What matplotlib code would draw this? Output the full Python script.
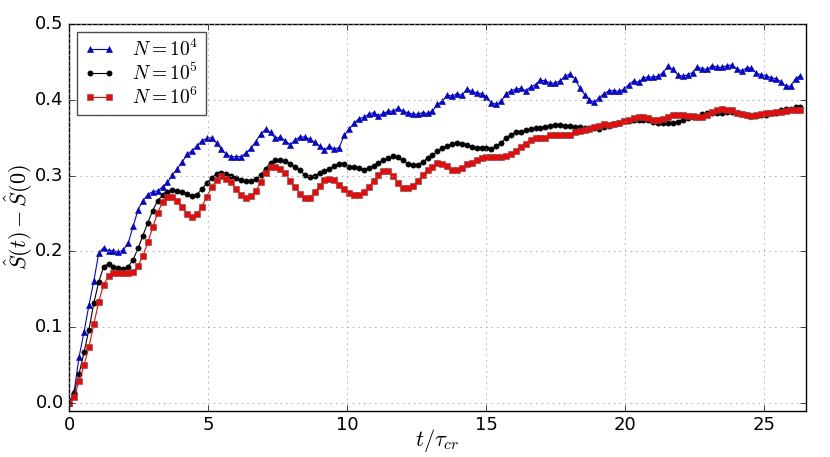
import numpy as np
import matplotlib
matplotlib.use("Agg")
import matplotlib.pyplot as plt

dt = 0.1766
n_points = 150

s_n4 = [0.000, 0.016, 0.061, 0.094, 0.129, 0.161, 0.198, 0.205, 0.201, 0.201,
        0.199, 0.202, 0.211, 0.233, 0.255, 0.267, 0.275, 0.279, 0.280, 0.285,
        0.291, 0.301, 0.309, 0.318, 0.328, 0.333, 0.339, 0.346, 0.349, 0.350,
        0.343, 0.335, 0.328, 0.325, 0.325, 0.325, 0.330, 0.336, 0.345, 0.355,
        0.361, 0.357, 0.349, 0.351, 0.346, 0.341, 0.347, 0.351, 0.351, 0.348,
        0.344, 0.339, 0.334, 0.339, 0.335, 0.337, 0.353, 0.361, 0.369, 0.375,
        0.377, 0.381, 0.383, 0.379, 0.382, 0.385, 0.385, 0.389, 0.385, 0.383,
        0.381, 0.381, 0.383, 0.382, 0.385, 0.394, 0.398, 0.406, 0.405, 0.408,
        0.406, 0.414, 0.411, 0.409, 0.408, 0.404, 0.396, 0.394, 0.398, 0.408,
        0.412, 0.414, 0.415, 0.412, 0.417, 0.420, 0.426, 0.425, 0.422, 0.422,
        0.425, 0.431, 0.434, 0.428, 0.416, 0.407, 0.400, 0.397, 0.403, 0.408,
        0.412, 0.412, 0.411, 0.414, 0.420, 0.425, 0.423, 0.429, 0.430, 0.430,
        0.431, 0.436, 0.444, 0.440, 0.433, 0.431, 0.433, 0.436, 0.443, 0.441,
        0.440, 0.445, 0.443, 0.443, 0.445, 0.446, 0.441, 0.438, 0.442, 0.442,
        0.435, 0.433, 0.432, 0.429, 0.428, 0.424, 0.418, 0.418, 0.428, 0.432]

s_n5 = [0.000, 0.014, 0.039, 0.067, 0.097, 0.132, 0.160, 0.180, 0.184, 0.180,
        0.178, 0.177, 0.180, 0.189, 0.204, 0.221, 0.238, 0.254, 0.267, 0.274,
        0.279, 0.281, 0.280, 0.279, 0.276, 0.273, 0.275, 0.282, 0.290, 0.297,
        0.302, 0.303, 0.302, 0.300, 0.297, 0.294, 0.293, 0.293, 0.295, 0.301,
        0.309, 0.317, 0.320, 0.320, 0.319, 0.316, 0.311, 0.307, 0.301, 0.298,
        0.300, 0.303, 0.306, 0.309, 0.313, 0.316, 0.315, 0.312, 0.311, 0.310,
        0.308, 0.310, 0.313, 0.317, 0.320, 0.323, 0.326, 0.324, 0.320, 0.316,
        0.314, 0.314, 0.318, 0.323, 0.327, 0.332, 0.336, 0.339, 0.342, 0.343,
        0.342, 0.340, 0.338, 0.337, 0.337, 0.336, 0.335, 0.339, 0.343, 0.350,
        0.354, 0.357, 0.358, 0.360, 0.361, 0.363, 0.363, 0.364, 0.365, 0.367,
        0.367, 0.366, 0.365, 0.364, 0.364, 0.363, 0.363, 0.363, 0.362, 0.364,
        0.365, 0.368, 0.369, 0.372, 0.372, 0.373, 0.374, 0.374, 0.373, 0.371,
        0.369, 0.369, 0.370, 0.370, 0.371, 0.374, 0.376, 0.378, 0.378, 0.381,
        0.383, 0.382, 0.382, 0.382, 0.384, 0.384, 0.383, 0.381, 0.380, 0.379,
        0.379, 0.380, 0.380, 0.382, 0.383, 0.386, 0.388, 0.388, 0.390, 0.390]

s_n6 = [0.000, 0.008, 0.029, 0.050, 0.074, 0.104, 0.134, 0.156, 0.168, 0.172,
        0.172, 0.171, 0.171, 0.173, 0.181, 0.194, 0.212, 0.232, 0.251, 0.265,
        0.272, 0.272, 0.267, 0.259, 0.249, 0.245, 0.249, 0.259, 0.272, 0.285,
        0.294, 0.299, 0.296, 0.291, 0.282, 0.275, 0.271, 0.273, 0.280, 0.291,
        0.303, 0.311, 0.311, 0.309, 0.303, 0.293, 0.285, 0.276, 0.271, 0.271,
        0.278, 0.286, 0.294, 0.296, 0.294, 0.288, 0.282, 0.277, 0.275, 0.275,
        0.278, 0.285, 0.293, 0.301, 0.306, 0.306, 0.299, 0.290, 0.284, 0.284,
        0.287, 0.293, 0.301, 0.307, 0.311, 0.317, 0.316, 0.313, 0.308, 0.307,
        0.310, 0.315, 0.317, 0.320, 0.323, 0.325, 0.325, 0.324, 0.324, 0.326,
        0.329, 0.333, 0.338, 0.342, 0.347, 0.349, 0.349, 0.350, 0.353, 0.354,
        0.354, 0.353, 0.354, 0.357, 0.359, 0.360, 0.361, 0.364, 0.365, 0.368,
        0.367, 0.368, 0.369, 0.372, 0.374, 0.376, 0.377, 0.377, 0.376, 0.374,
        0.373, 0.375, 0.378, 0.380, 0.380, 0.380, 0.379, 0.379, 0.378, 0.378,
        0.380, 0.384, 0.386, 0.388, 0.387, 0.386, 0.383, 0.381, 0.380, 0.379,
        0.380, 0.381, 0.382, 0.383, 0.384, 0.384, 0.385, 0.386, 0.386, 0.386]

labels = [r'$N=10^4$', r'$N=10^5$', r'$N=10^6$']
xticks = [0, 5, 10, 15, 20, 25]
yticks = [0.0, 0.1, 0.2, 0.3, 0.4, 0.5]

plt.style.use('classic')
t = dt * np.arange(n_points)

fig = plt.figure(figsize=(8.3, 4.57), dpi=100)
fig.patch.set_facecolor('white')
ax = fig.add_axes([0.0835, 0.1013, 0.8872, 0.8462])

ax.plot(t, s_n4, '-^', color='b', lw=0.8, ms=5, mec='#000080', mew=0.4, label=labels[0])
ax.plot(t, s_n5, '-o', color='k', lw=0.8, ms=3.8, mec='k', mew=0.4, label=labels[1])
ax.plot(t, s_n6, '-s', color='r', lw=0.8, ms=4.6, mec='#555555', mew=0.4, label=labels[2])

ax.set_xlim(0, 26.5)
ax.set_ylim(-0.01, 0.5)
ax.set_xticks(xticks)
ax.set_yticks(yticks)
ax.set_yticklabels(['%.1f' % v for v in yticks])
ax.tick_params(labelsize=13, pad=4)
ax.grid(True, color='0.6', linestyle=':', linewidth=0.6)
ax.set_xlabel(r'$t/\tau_{cr}$', fontsize=16, labelpad=-5)
ax.set_ylabel(r'$\hat{S}(t)-\hat{S}(0)$', fontsize=16, labelpad=0)

leg = ax.legend(loc='upper left', numpoints=2, fontsize=14, handlelength=1.6,
                handletextpad=0.9, borderpad=0.35, labelspacing=0.15,
                borderaxespad=0.4)
leg.get_frame().set_edgecolor('0.3')

fig.savefig('out.png', dpi=100, facecolor='white')
